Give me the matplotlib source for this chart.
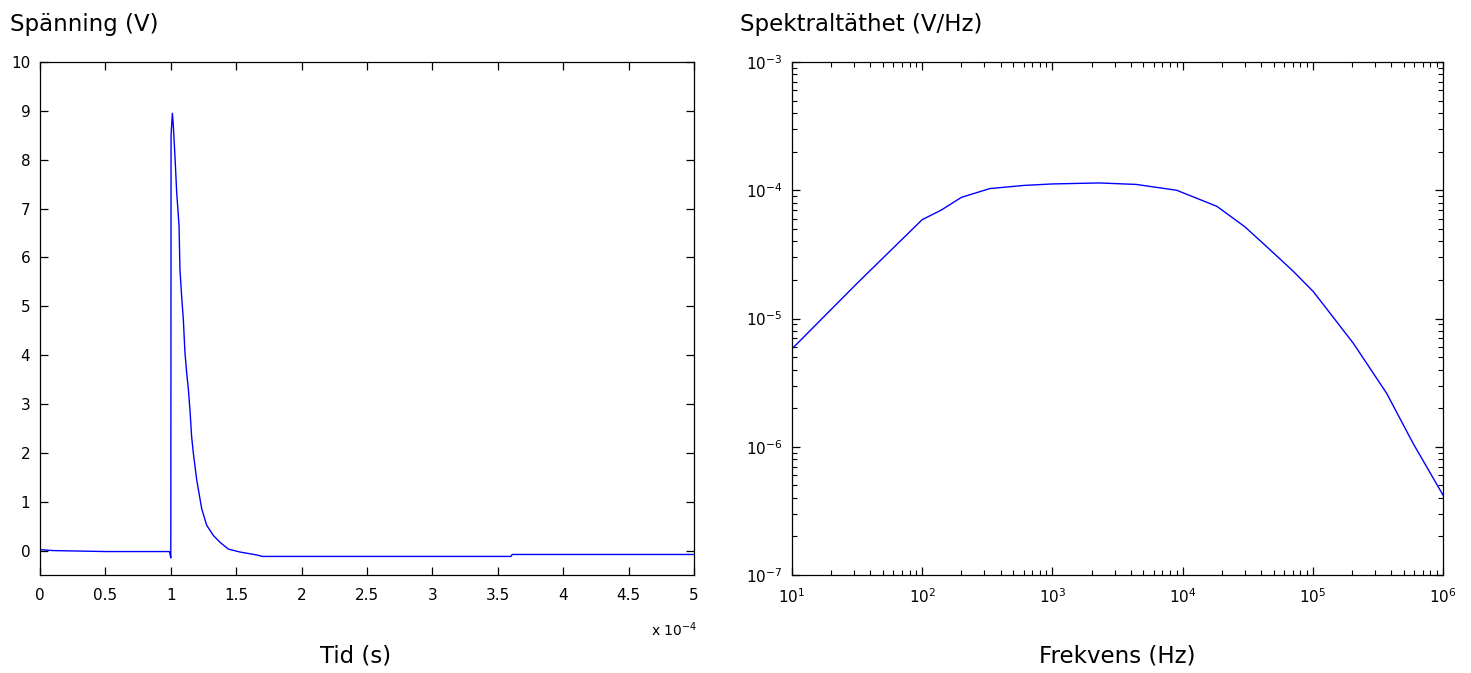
import matplotlib

matplotlib.use("Agg")
import matplotlib.pyplot as plt
from matplotlib.ticker import FixedLocator, FuncFormatter, LogLocator, NullFormatter

plt.rcParams["font.family"] = ["DejaVu Sans"]
plt.rcParams["axes.unicode_minus"] = False

# time signal, t in units of 1e-4 s
t_scaled = [0.0, 0.1, 0.5, 0.99, 1.0, 1.0, 1.001, 1.002, 1.012, 1.019, 1.032, 1.045, 1.063, 1.070,
            1.083, 1.096, 1.108, 1.121, 1.134, 1.147, 1.159, 1.172, 1.198, 1.236, 1.274, 1.325,
            1.376, 1.44, 1.529, 1.657, 1.70, 3.60, 3.61, 5.0]
voltage = [0.02, 0.0, -0.02, -0.02, -0.15, 0.0, 3.3, 8.5, 8.95, 8.71, 8.06, 7.33, 6.65, 5.75,
           5.20, 4.72, 4.06, 3.65, 3.31, 2.86, 2.34, 2.00, 1.45, 0.86, 0.52, 0.31,
           0.17, 0.03, -0.03, -0.09, -0.12, -0.12, -0.08, -0.08]
t_unit = 1e-4
time_s = [v * t_unit for v in t_scaled]
time_ticks = [0, 0.5, 1, 1.5, 2, 2.5, 3, 3.5, 4, 4.5, 5]
volt_ticks = list(range(0, 11))

# spectral density
freq = [10, 31.6, 100, 140, 200, 330, 600, 1000, 2300, 4400, 9000, 18300, 30000, 44000,
        70000, 101000, 205000, 370000, 590000, 1000000]
density = [5.8e-6, 1.88e-5, 5.9e-5, 7.0e-5, 8.8e-5, 1.03e-4, 1.09e-4, 1.12e-4, 1.14e-4, 1.11e-4,
           1.0e-4, 7.5e-5, 5.2e-5, 3.65e-5, 2.36e-5, 1.62e-5, 6.4e-6, 2.6e-6, 1.06e-6, 4.2e-7]

W, H = 1471, 673
fig = plt.figure(figsize=(W / 100, H / 100), dpi=100)


def px_axes(x0, x1, y0, y1):
    return fig.add_axes([x0 / W, 1 - y1 / H, (x1 - x0) / W, (y1 - y0) / H])


def matlab_style(ax):
    for s in ax.spines.values():
        s.set_linewidth(0.9)
    ax.tick_params(which="both", direction="in", top=True, right=True, labelsize=11)
    ax.tick_params(axis="x", which="both", pad=9)
    ax.tick_params(axis="y", which="both", pad=7)
    ax.tick_params(which="major", length=6, width=0.9)
    ax.tick_params(which="minor", length=3.5, width=0.8)


ax1 = px_axes(40, 694, 62, 575)
ax1.plot(time_s, voltage, color="#0000ff", lw=1.0)
ax1.set_xlim(0, 5 * t_unit)
ax1.set_ylim(-0.5, 10)
ax1.xaxis.set_major_locator(FixedLocator([v * t_unit for v in time_ticks]))
ax1.xaxis.set_major_formatter(FuncFormatter(lambda v, p: f"{v / t_unit:g}"))
ax1.yaxis.set_major_locator(FixedLocator(volt_ticks))
matlab_style(ax1)
fig.text(697 / W, 1 - 630 / H, "x 10$^{-4}$", ha="right", va="center", fontsize=10)

ax2 = px_axes(792, 1443, 62, 575)
ax2.plot(freq, density, color="#0000ff", lw=1.0)
ax2.set_xscale("log")
ax2.set_yscale("log")
ax2.set_xlim(1e1, 1e6)
ax2.set_ylim(1e-7, 1e-3)
for axis in (ax2.xaxis, ax2.yaxis):
    axis.set_major_locator(LogLocator(base=10, numticks=10))
    axis.set_minor_locator(LogLocator(base=10, subs=range(2, 10), numticks=10))
    axis.set_minor_formatter(NullFormatter())
matlab_style(ax2)

label_size = 16.5
fig.text(10 / W, 1 - 31 / H, "Spänning (V)", ha="left", va="baseline", fontsize=label_size)
fig.text(740 / W, 1 - 31 / H, "Spektraltäthet (V/Hz)", ha="left", va="baseline", fontsize=label_size)
fig.text(356 / W, 1 - 656 / H, "Tid (s)", ha="center", va="center", fontsize=label_size)
fig.text(1117 / W, 1 - 656 / H, "Frekvens (Hz)", ha="center", va="center", fontsize=label_size)

fig.savefig("out.png", dpi=100)
